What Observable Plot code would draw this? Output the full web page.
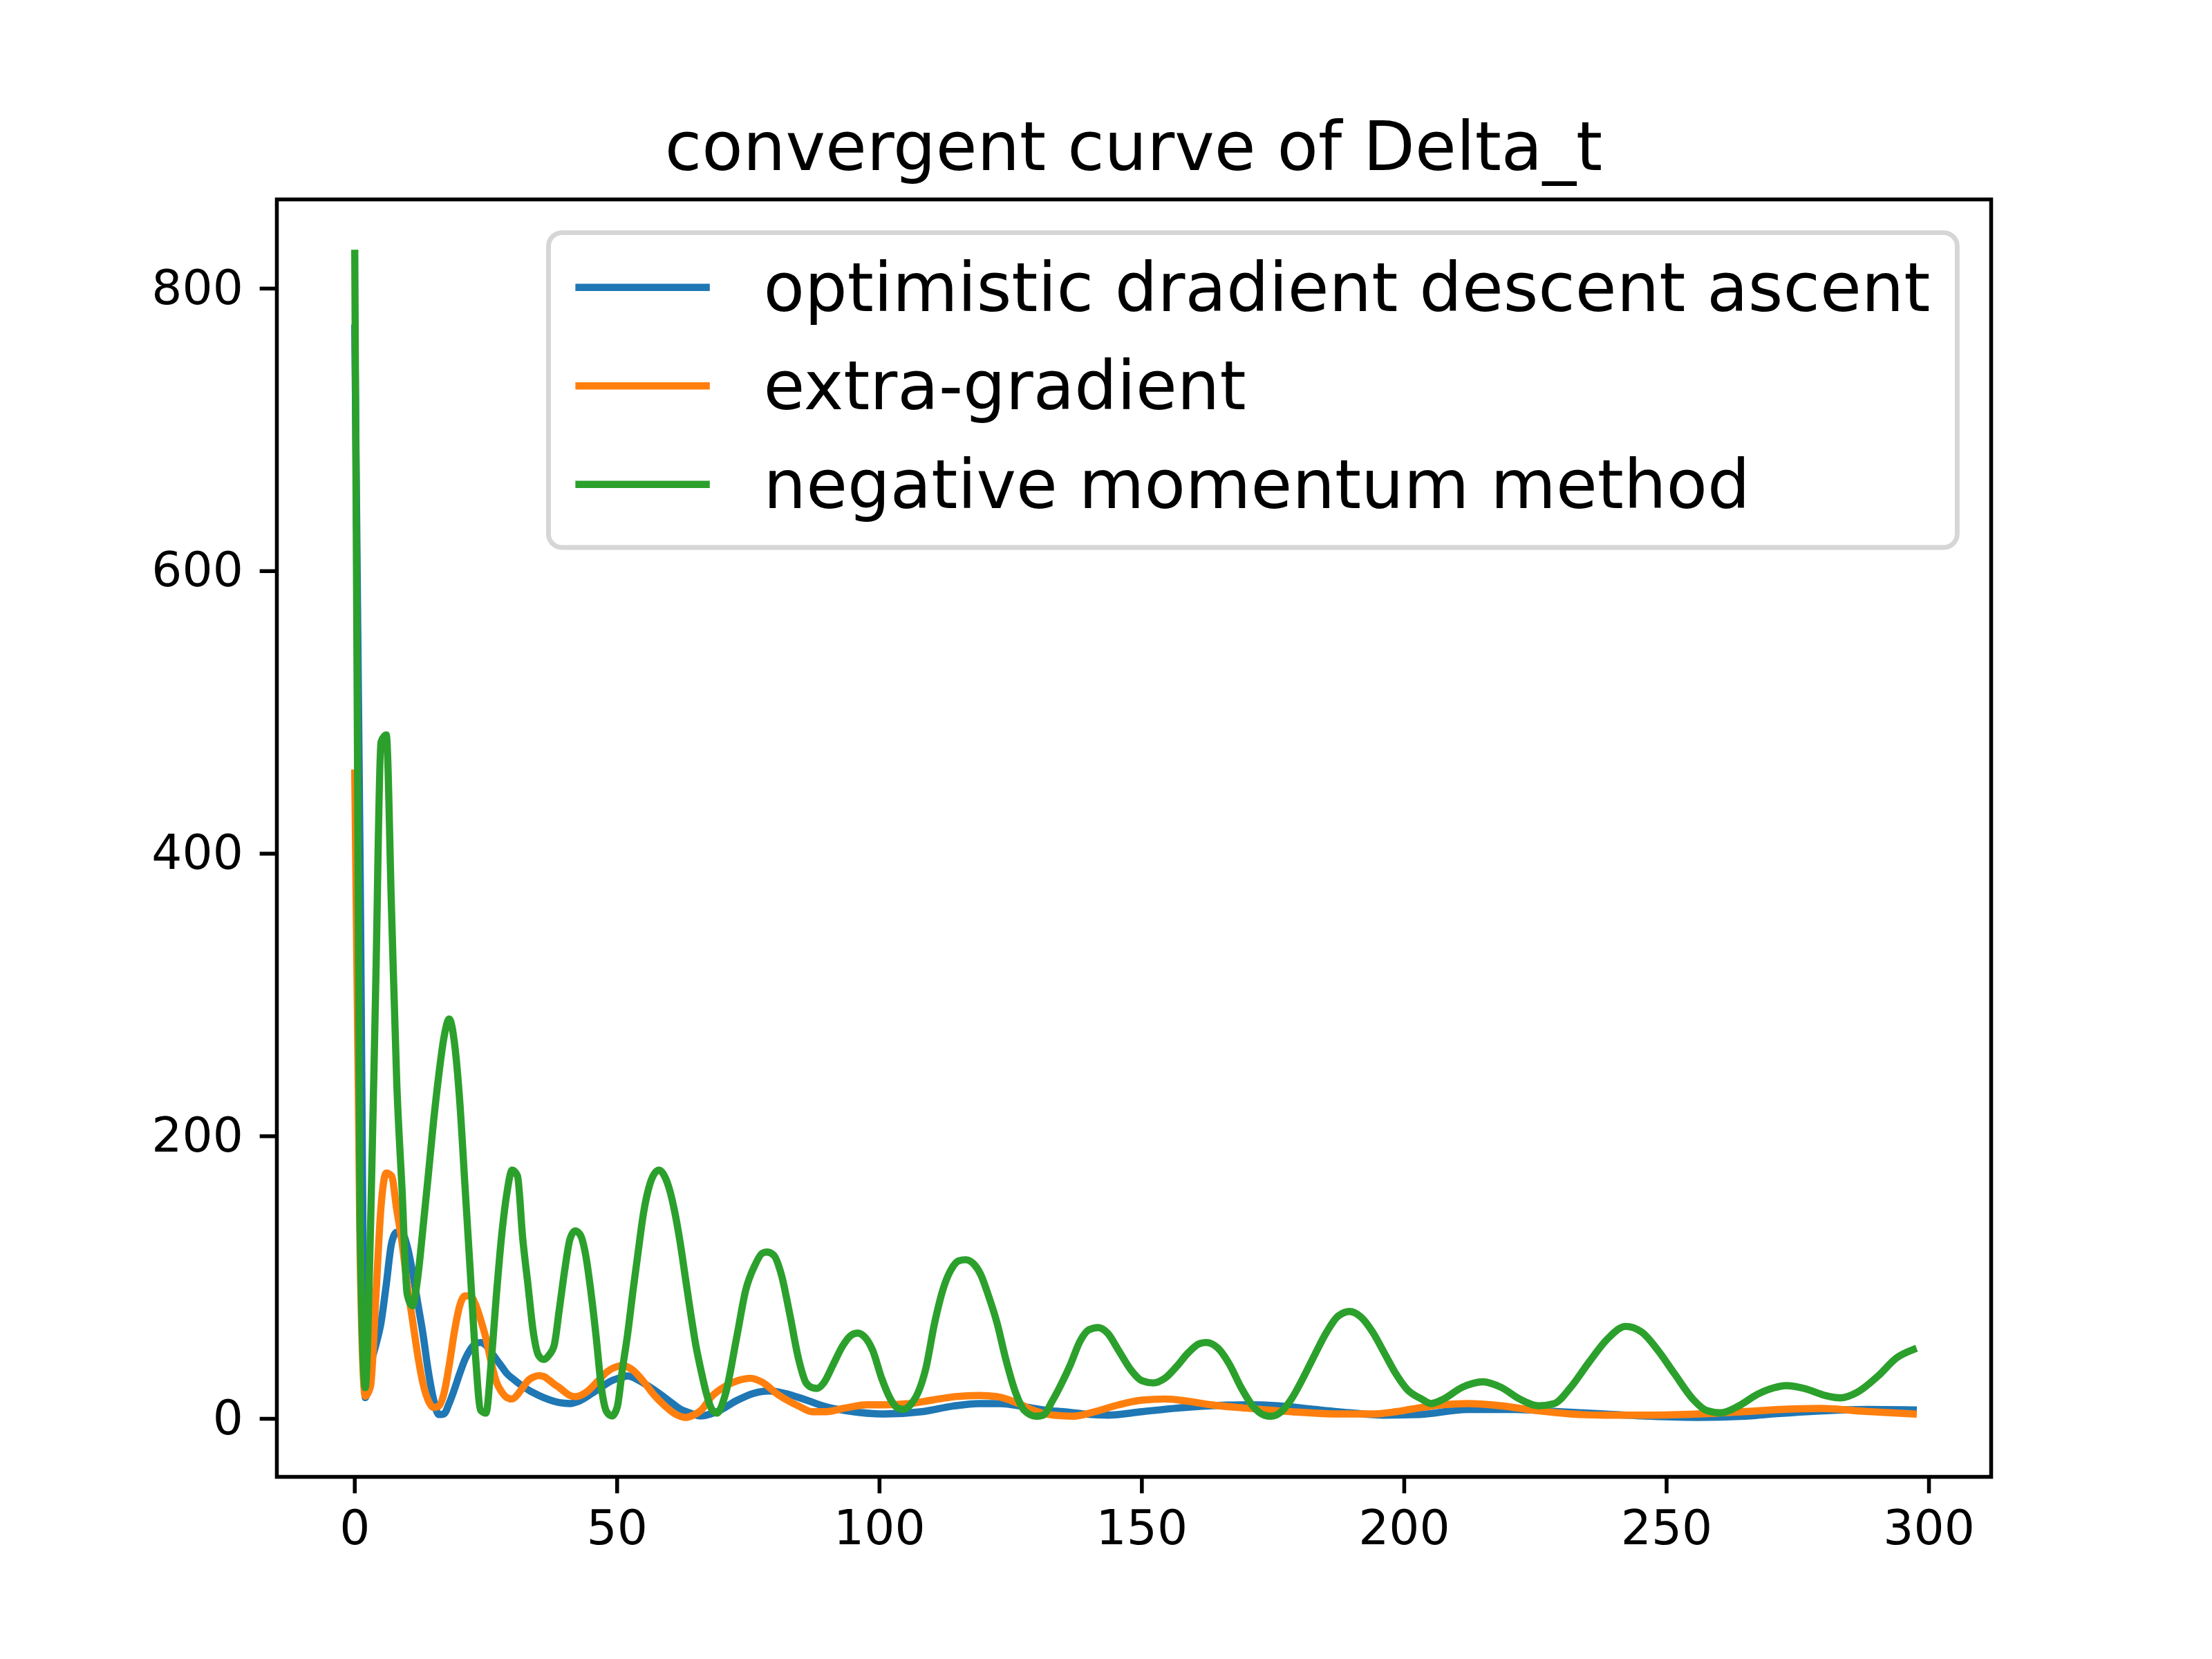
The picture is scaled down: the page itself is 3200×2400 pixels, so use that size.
<!DOCTYPE html>
<html><head><meta charset="utf-8">
<script src="https://cdn.jsdelivr.net/npm/d3@7"></script>
<script src="https://cdn.jsdelivr.net/npm/@observablehq/plot@0.6"></script>
<style>html,body{margin:0;padding:0;background:#fff;} #chart{width:3200px;height:2400px;}</style>
</head><body><div id="chart"></div>
<script>
const chartTitle = "convergent curve of Delta_t";
const seriesNames = ["optimistic dradient descent ascent", "extra-gradient", "negative momentum method"];
const seriesColors = ["#1f77b4", "#ff7f0e", "#2ca02c"];
const xTicks = [0, 50, 100, 150, 200, 250, 300];
const yTicks = [0, 200, 400, 600, 800];

// [iteration, Delta_t]
const odaPoints = [[0,772],[1,400],[2,15],[3,38],[4,52],[5,68],[6,95],[7,124],[8,132],[9,131.5],[10,122],[11,104],[12,82],[13,60],[14,34],[15,14],[16,3],[17,3.5],[18,11],[19,21],[20,32],[21,42],[22,49],[23,53],[24,54],[25,52],[26,47],[27,42],[28,37],[29,32],[30,28.7],[32,23],[34,18.5],[36,15],[38,12.4],[40,11],[41,10.8],[43,13],[45,17.5],[47,22.5],[49,27],[51,29.5],[52,30.3],[54,27.5],[56,23],[58,18],[60,12.4],[62,7],[64,4],[66,2],[69,5],[73,13.3],[76,18],[79,19.7],[82,18],[86,13.3],[90,8.3],[95,5],[101,3.4],[108,5],[114,9],[119,10.8],[123,10.8],[128,8.3],[132,5.9],[135,5],[139,3.4],[143.5,2.6],[150,5],[156.6,7.5],[163,9.2],[170,9.9],[176,9.2],[183,6.6],[190,4.2],[196,2.6],[203,3],[212,6.6],[221,6.6],[229.5,5],[238,3.4],[247,1.8],[256,1],[265,1.8],[271,3.6],[279,5.5],[288,6.6],[297,6.3]];

const egPoints = [[0,457],[1,120],[2,16],[3,23],[4,85],[5,150],[6,174],[7,172],[8,148],[9,125],[10,95],[11,70],[12,45],[13,25],[14,13],[15,8],[16,9],[17,18],[18,38],[19,62],[20,80],[21,87],[22,87],[23,81],[24,70],[25,57],[26,40],[27,26],[28,19],[29,15],[30,14],[31,17],[32,22],[33,27],[34,29.5],[35,30.5],[36,30],[37,27.5],[38,24.5],[39,22],[40,19],[41,16.5],[42,15.7],[43,16.5],[44,18.5],[46,25.4],[48,33],[50,37],[51,37.7],[53,34.4],[55,26.5],[57,17],[59,9.5],[61,3.5],[63,1],[65,3.5],[66,6],[68,15.7],[70.6,23],[73,27],[75.4,28.7],[77.6,26],[80.7,17],[84.6,9],[87.2,5],[89.8,5],[93.3,7.5],[97.7,9.9],[101.3,9.9],[105.7,10.8],[110,13.2],[114.5,15.7],[119,16.5],[122.4,15.7],[126,11.6],[129.4,5.9],[133,2.6],[137,1.8],[141,5],[145.6,9.9],[150,13.2],[154.4,14],[158.8,12.4],[163.2,9.9],[170,7.5],[178.5,5],[187.4,3.4],[194,3.4],[198.4,5],[203.3,8],[207.5,10],[212,10.8],[218.5,9.2],[225,5.9],[231.7,3.4],[238,2.6],[247,2.6],[256,3.4],[264.6,5],[271,6.5],[279.4,7.3],[288,5.2],[297,3.4]];

const nmPoints = [[0,825],[1,140],[2,22],[3,135],[4,308],[5,479],[6,484],[7,361],[8,238],[9,163],[10,88],[11,80],[12,100],[13,135],[14,172],[15,210],[16,243],[17,270],[18,283],[19,266],[20,225],[21,165],[22,105],[23,45],[24,6],[25,4],[26,40],[27,88],[28,130],[29,160],[30,176],[31,172],[32,128],[33,95],[34,62],[35,45],[36,42],[37,45],[38,52],[39,78],[40,105],[41,127],[42,133],[43,130],[44,116],[45,90],[46,58],[47,22],[48,5],[49,2],[50,8],[51,35],[52,60],[53,90],[54,118],[55,145],[56,163],[57,173],[58,176],[59,172],[60,162],[61,146],[62,125],[63,100],[64,75],[65,52],[66,34],[67,18],[68,7],[69,4],[70.6,17],[72.8,58],[74.5,91],[76.3,109],[77.6,117],[78.5,118],[79.8,116],[81.3,102],[82.9,74],[84.6,42],[86,25.5],[87.2,22],[88.1,21.5],[89.4,25.5],[91.2,38.6],[93,51.7],[94.3,58.2],[95.8,60.7],[97.3,57.4],[98.7,48.4],[100.4,28.8],[102.2,13.3],[103.5,7.5],[104.6,6.7],[105.9,9.9],[107.4,18.9],[108.8,35.2],[110.5,67.8],[112.3,93.9],[113.6,105.3],[115.1,111.8],[116.4,112.6],[118,109.4],[119.3,102],[120.6,89],[122.4,67.8],[124.1,41.7],[125.9,18.9],[127.6,5.9],[129.8,1.8],[131.2,2.6],[132.9,12.4],[134.7,25],[136.4,38.5],[138.2,54.8],[139.9,63],[141.7,64.6],[143.5,60.5],[145.6,48.2],[147.8,35.2],[150,27],[152.2,25.4],[154.4,28.7],[156.6,36.9],[158.8,46.6],[161,53.2],[162.3,54],[164.5,50],[166.7,38.5],[168.9,22.2],[171.1,9.2],[173.3,2.6],[174.6,1.8],[176.3,4.2],[178.5,14],[180.7,28.7],[182.9,45],[185.2,61.3],[187.4,72.7],[189.6,76],[191.8,71.9],[194,61.3],[196.2,46.6],[198.4,31.9],[200.6,20.6],[203.3,14],[205.1,10.8],[207.5,14],[211,22.2],[215,26.2],[218.5,22.2],[222,14],[225.6,9.2],[228.6,10.8],[231.7,22.2],[235.2,40],[238.7,56.4],[242.2,65.4],[245.3,61.3],[248.4,48.2],[251.5,31.9],[255,14],[257.6,5.9],[260.3,4.2],[263.8,9.2],[267.3,17.3],[270.5,22],[272.8,23.5],[276.3,21.4],[280.2,16.5],[283.1,14.8],[286.4,18.9],[290.3,30.3],[293.9,43.3],[297,49]];

const PT = 500 / 72;
const FONT = "DejaVu Sans";
const toRows = (pts, name) => pts.map(([x, y]) => ({x, y, name}));
const seriesData = [toRows(odaPoints, seriesNames[0]), toRows(egPoints, seriesNames[1]), toRows(nmPoints, seriesNames[2])];

const lineOpts = (i) => ({x: "x", y: "y", stroke: seriesColors[i], strokeWidth: 1.5 * PT, curve: "monotone-x", strokeLinejoin: "round", strokeLinecap: "square"});

const plot = Plot.plot({
  width: 3200, height: 2400,
  marginLeft: 400, marginRight: 320, marginTop: 288, marginBottom: 264,
  style: {fontFamily: FONT, background: "#fff", color: "#000", overflow: "visible"},
  x: {domain: [-14.85, 311.85]},
  y: {domain: [-41.1, 863.1]},
  marks: [
    Plot.line(seriesData[0], lineOpts(0)),
    Plot.line(seriesData[1], lineOpts(1)),
    Plot.line(seriesData[2], lineOpts(2)),
    Plot.frame({stroke: "#000", strokeWidth: 0.8 * PT}),
    Plot.axisX({ticks: xTicks, tickSize: 3.5 * PT, tickPadding: 3.5 * PT, fontSize: 10 * PT, strokeWidth: 0.8 * PT, label: null, tickFormat: d => String(d)}),
    Plot.axisY({ticks: yTicks, tickSize: 3.5 * PT, tickPadding: 3.5 * PT, fontSize: 10 * PT, strokeWidth: 0.8 * PT, label: null, tickFormat: d => String(d)})
  ]
});
document.getElementById("chart").appendChild(plot);

const svg = d3.select(plot);
// title
svg.append("text").attr("x", (400 + 2880) / 2).attr("y", 288 - 6 * PT)
  .attr("text-anchor", "middle").attr("font-family", FONT).attr("font-size", 14 * PT).attr("fill", "#000")
  .text(chartTitle);

// legend (upper right)
const fs = 14 * PT;
const lg = svg.append("g").attr("text-anchor", "start");
const boxRight = 2880 - 0.5 * fs, boxTop = 288 + 0.5 * fs, boxBottom = 792;
const rowCenters = [415.7, 558.3, 700.7];
const box = lg.append("rect");
const texts = seriesNames.map((n, i) => lg.append("text").attr("text-anchor", "start").attr("font-family", FONT).attr("font-size", fs).attr("fill", "#000")
  .attr("y", rowCenters[i] + 33.8).text(n));
const textW = d3.max(texts, t => t.node().getComputedTextLength());
const boxLeft = boxRight - (2 * 0.4 * fs + 2 * fs + 0.8 * fs + textW);
box.attr("x", boxLeft).attr("y", boxTop).attr("width", boxRight - boxLeft).attr("height", boxBottom - boxTop)
  .attr("rx", 0.2 * fs).attr("fill", "#fff").attr("fill-opacity", 0.8).attr("stroke", "#d6d6d6").attr("stroke-width", 1 * PT);
texts.forEach(t => t.attr("x", boxLeft + 0.4 * fs + 2 * fs + 0.8 * fs));
seriesNames.forEach((n, i) => {
  lg.append("line").attr("x1", boxLeft + 0.4 * fs).attr("x2", boxLeft + 0.4 * fs + 2 * fs)
    .attr("y1", rowCenters[i]).attr("y2", rowCenters[i])
    .attr("stroke", seriesColors[i]).attr("stroke-width", 1.5 * PT).attr("stroke-linecap", "butt");
});
texts.forEach(t => t.raise());
</script>
</body></html>
